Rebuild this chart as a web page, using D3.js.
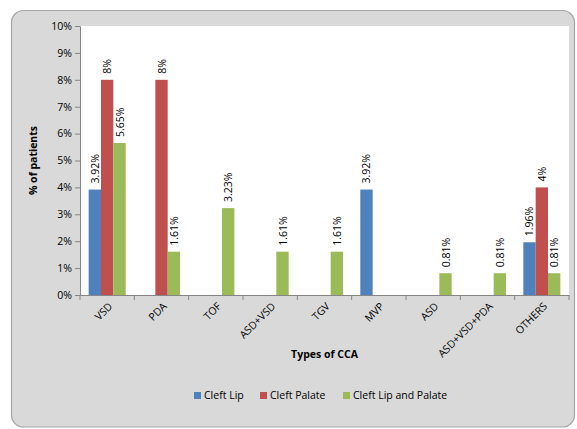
<!DOCTYPE html>
<html>
<head>
<meta charset="utf-8">
<script src="https://cdnjs.cloudflare.com/ajax/libs/d3/7.8.5/d3.min.js"></script>
<style>
  body { margin: 0; background: #fff; }
  text { font-family: "Open Sans", "Liberation Sans", sans-serif; fill: #000; }
</style>
</head>
<body>
<div id="chart"></div>
<script>
// chart data
var categories = ["VSD", "PDA", "TOF", "ASD+VSD", "TGV", "MVP", "ASD", "ASD+VSD+PDA", "OTHERS"];
var seriesNames = ["Cleft Lip", "Cleft Palate", "Cleft Lip and Palate"];
var cleftLip = [3.92, 0, 0, 0, 0, 3.92, 0, 0, 1.96];
var cleftPalate = [8, 8, 0, 0, 0, 0, 0, 0, 4];
var cleftLipPalate = [5.65, 1.61, 3.23, 1.61, 1.61, 0, 0.81, 0.81, 0.81];
var yTicks = [0, 1, 2, 3, 4, 5, 6, 7, 8, 9, 10];
var colors = ["#4f81bd", "#c0504d", "#9bbb59"];

var W = 577, H = 429;
var margin = {left: 80, top: 26, right: 8};
var plotW = W - margin.left - margin.right;
var plotH = 269;

var svg = d3.select("#chart").append("svg")
    .attr("width", W)
    .attr("height", H);

// outer chart area
svg.append("rect")
    .attr("x", 11.5).attr("y", 10.5)
    .attr("width", 563).attr("height", 416.5)
    .attr("rx", 12).attr("ry", 12)
    .attr("fill", "#d9d9d9")
    .attr("stroke", "#a6a6a6")
    .attr("stroke-width", 1.2);

var g = svg.append("g").attr("transform", "translate(" + margin.left + "," + margin.top + ")");

g.append("rect")
    .attr("width", plotW).attr("height", plotH)
    .attr("fill", "#fff");

var x0 = d3.scaleBand().domain(categories).range([0, plotW]).paddingInner(0.3182).paddingOuter(0.1591);
var x1 = d3.scaleBand().domain([0, 1, 2]).range([0, x0.bandwidth()]);
var y = d3.scaleLinear().domain([0, 10]).range([plotH, 0]);

var data = categories.map(function(c, i) {
    return {cat: c, vals: [cleftLip[i], cleftPalate[i], cleftLipPalate[i]].map(function(v, s) {
        return {s: s, v: v};
    })};
});

// bars
var grp = g.selectAll(".grp").data(data).enter().append("g")
    .attr("transform", function(d) { return "translate(" + x0(d.cat) + ",0)"; });

grp.selectAll("rect").data(function(d) { return d.vals; }).enter().append("rect")
    .attr("x", function(d) { return x1(d.s); })
    .attr("y", function(d) { return y(d.v); })
    .attr("width", x1.bandwidth())
    .attr("height", function(d) { return plotH - y(d.v); })
    .attr("fill", function(d) { return colors[d.s]; });

// value labels
grp.selectAll(".lbl").data(function(d) { return d.vals.filter(function(e) { return e.v > 0; }); })
    .enter().append("text")
    .attr("class", "lbl")
    .attr("transform", function(d) {
        return "translate(" + (x1(d.s) + x1.bandwidth() / 2 + 4) + "," + (y(d.v) - 6) + ") rotate(-90)";
    })
    .style("font-size", "10.5px")
    .text(function(d) { return d.v + "%"; });

// y axis
var yAxis = g.append("g").call(d3.axisLeft(y).tickValues(yTicks).tickSize(5).tickFormat(function(d) { return d + "%"; }));
yAxis.selectAll("text").style("font-size", "10.5px").attr("x", -8);
yAxis.select(".domain").attr("stroke", "#868686");
yAxis.selectAll(".tick line").attr("stroke", "#868686");

// x axis
var xAxis = g.append("g").attr("transform", "translate(0," + plotH + ")")
    .call(d3.axisBottom(x0).tickSize(0).tickSizeOuter(0));
xAxis.select(".domain").attr("stroke", "#868686");
xAxis.selectAll(".tick text")
    .style("font-size", "10.5px")
    .attr("text-anchor", "end")
    .attr("dy", null)
    .attr("y", 0)
    .attr("transform", "translate(6,12) rotate(-45)");

// x tick marks between groups
var step = x0.step();
g.selectAll(".xt").data(d3.range(categories.length + 1)).enter().append("line")
    .attr("x1", function(d) { return d * step; })
    .attr("x2", function(d) { return d * step; })
    .attr("y1", plotH).attr("y2", plotH + 5)
    .attr("stroke", "#868686");

// axis titles
svg.append("text")
    .attr("transform", "translate(37," + (margin.top + plotH / 2) + ") rotate(-90)")
    .attr("text-anchor", "middle")
    .style("font-size", "10.5px").style("font-weight", "bold")
    .text("% of patients");

svg.append("text")
    .attr("x", margin.left + plotW / 2).attr("y", 358)
    .attr("text-anchor", "middle")
    .style("font-size", "10.5px").style("font-weight", "bold")
    .text("Types of CCA");

// legend
var legendX = [194, 260, 343];
var leg = svg.selectAll(".leg").data(seriesNames).enter().append("g")
    .attr("transform", function(d, i) { return "translate(" + legendX[i] + ",399)"; });
leg.append("rect").attr("x", 0).attr("y", -7).attr("width", 7).attr("height", 7)
    .attr("fill", function(d, i) { return colors[i]; });
leg.append("text").attr("x", 10).attr("y", 0)
    .style("font-size", "10.5px")
    .text(function(d) { return d; });
</script>
</body>
</html>
